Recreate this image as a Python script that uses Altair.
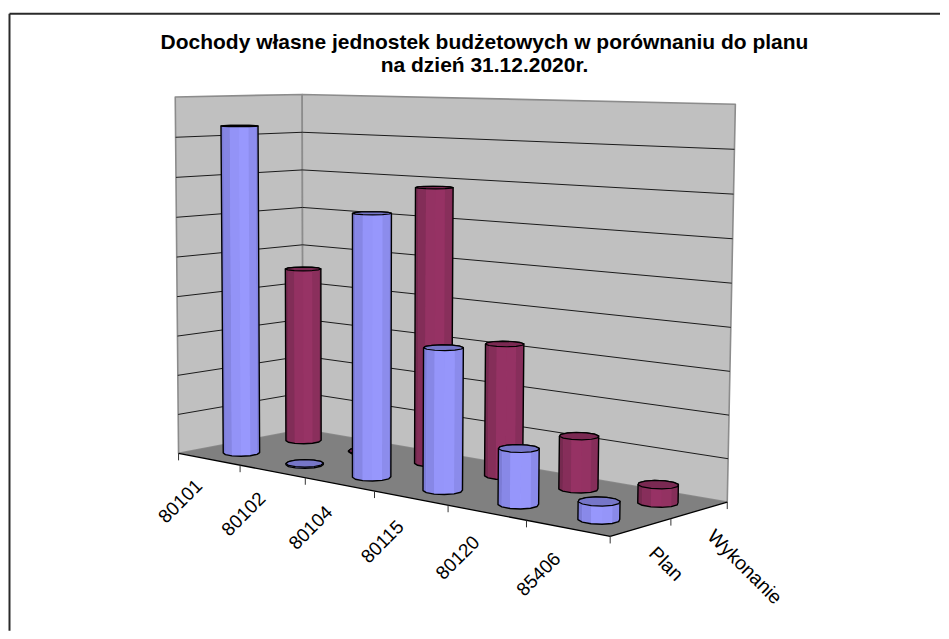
import numpy as np
import pandas as pd
import altair as alt

# ---- chart data -------------------------------------------------------
categories = ["80101", "80102", "80104", "80115", "80120", "85406"]
series_names = ["Plan", "Wykonanie"]
plan = [8.28, 0.03, 6.34, 3.35, 1.28, 0.4]
wykonanie = [4.52, 0.02, 6.84, 3.2, 1.25, 0.42]
grid_top = 9
title_lines = ["Dochody własne jednostek budżetowych w porównaniu do planu",
               "na dzień 31.12.2020r."]

# ---- view: 3-D world (category, series, value) to picture -------------
world_refs = [(0, 0, 0), (6, 0, 0), (6, 2, 0), (0, 2, 0), (0, 0, 9), (0, 2, 9), (6, 2, 9)]
view_refs = [(179, 453), (611, 537), (728, 502), (303, 430), (175, 97), (303, 94), (736, 104)]


def fit_camera():
    rows, rhs = [], []
    for (a, b, c), (p, q) in zip(world_refs, view_refs):
        rows.append([a, b, c, 1, 0, 0, 0, 0, -p * a, -p * b, -p * c])
        rhs.append(p)
        rows.append([0, 0, 0, 0, a, b, c, 1, -q * a, -q * b, -q * c])
        rhs.append(q)
    m = np.linalg.lstsq(np.array(rows, float), np.array(rhs, float), rcond=None)[0]
    return np.append(m, 1.0).reshape(3, 4)


CAM = fit_camera()


def project(a, b, c):
    h = CAM @ np.array([a, b, c, 1.0])
    return h[0] / h[2], h[1] / h[2]


polys = []


def add_poly(points, fill, stroke="transparent", sw=0.0):
    pid = len(polys)
    polys.append((pid, points, fill, stroke, sw))


def world_poly(pts, fill, stroke="transparent", sw=0.0):
    add_poly([project(*p) for p in pts], fill, stroke, sw)


def mix(hex_a, hex_b, t):
    a = [int(hex_a[i:i + 2], 16) for i in (1, 3, 5)]
    b = [int(hex_b[i:i + 2], 16) for i in (1, 3, 5)]
    return "#" + "".join(f"{round(x + (y - x) * t):02x}" for x, y in zip(a, b))


# walls and floor
WALL, FLOOR, EDGE = "#c0c0c0", "#808080", "#8c8c8c"
world_poly([(0, 0, 0), (0, 2, 0), (0, 2, grid_top), (0, 0, grid_top)], WALL, EDGE, 1.6)
world_poly([(0, 2, 0), (6, 2, 0), (6, 2, grid_top), (0, 2, grid_top)], WALL, EDGE, 1.6)
world_poly([(0, 0, 0), (6, 0, 0), (6, 2, 0), (0, 2, 0)], FLOOR)

segments = []


def seg(p, q, colour, width):
    sid = len(segments)
    segments.append((sid, project(*p), project(*q), colour, width))


for z in range(1, grid_top):
    seg((0, 0, z), (0, 2, z), "#1a1a1a", 1.0)
    seg((0, 2, z), (6, 2, z), "#1a1a1a", 1.0)
seg((0, 0, 0), (6, 0, 0), "#000000", 1.3)
seg((6, 0, 0), (6, 2, 0), "#000000", 1.3)


def tick(p, colour="#333333"):
    x, y = project(*p)
    return (x, y, colour)


ticks = [tick((u, 0, 0)) for u in range(7)] + [tick((6, v, 0)) for v in (1, 2)]

# cylinders
N = 12
RADIUS = 0.205
STYLES = {0: ("#9999ff", "#7c7cd6", "#7676c8"), 1: ("#993366", "#762a50", "#7a2952")}


def cylinder(u, v, value, s):
    bright, dark, top = STYLES[s]
    ang = np.linspace(0, 2 * np.pi, N, endpoint=False) + np.pi / N
    ring = [(u + RADIUS * np.cos(a), v + RADIUS * np.sin(a)) for a in ang]
    base = [project(p, q, 0) for p, q in ring]
    head = [project(p, q, value) for p, q in ring]
    all_pts = base + head
    # silhouette: convex hull in picture space
    pts = sorted(set(all_pts))

    def half(seq):
        out = []
        for p in seq:
            while len(out) > 1 and ((out[-1][0] - out[-2][0]) * (p[1] - out[-2][1])
                                    - (out[-1][1] - out[-2][1]) * (p[0] - out[-2][0])) <= 0:
                out.pop()
            out.append(p)
        return out[:-1]
    hull = half(pts) + half(pts[::-1])
    add_poly(hull, bright)
    # front facets, shaded by how far they turn from the viewer
    xs = [p[0] for p in base]
    xmid, xhalf = (min(xs) + max(xs)) / 2, (max(xs) - min(xs)) / 2
    for i in range(N):
        j = (i + 1) % N
        if base[i][1] + base[j][1] < 2 * np.mean([p[1] for p in base]) - 1.5:
            continue
        cx = (base[i][0] + base[j][0]) / 2
        t = min(1.0, abs(cx - xmid - 0.1 * xhalf) / xhalf)
        add_poly([base[i], base[j], head[j], head[i]], mix(bright, dark, t ** 1.6))
    add_poly(hull, "transparent", "#000000", 1.4)
    add_poly(head, top, "#000000", 1.2)


for k, val in enumerate(wykonanie):
    cylinder(k + 0.5, 1.5, val, 1)
for k, val in enumerate(plan):
    cylinder(k + 0.5, 0.5, val, 0)

# ---- tables -----------------------------------------------------------
poly_rows = []
for pid, points, fill, stroke, sw in polys:
    for o, (x, y) in enumerate(points):
        poly_rows.append(dict(pid=pid, o=o, x=x, y=y, fill=fill, stroke=stroke, sw=sw))
poly_df = pd.DataFrame(poly_rows)

wall_ids = 3
seg_df = pd.DataFrame([dict(x=p[0], y=p[1], x2=q[0], y2=q[1], c=c, w=w) for _, p, q, c, w in segments])
tick_df = pd.DataFrame([dict(x=x, y=y, c=c) for x, y, c in ticks])

cat_df = pd.DataFrame([dict(t=t, x=project(k + 0.5, 0, -0.6)[0], y=project(k + 0.5, 0, -0.6)[1])
                       for k, t in enumerate(categories)])
ser_df = pd.DataFrame([dict(t=t, x=project(6, k + 0.5, 0)[0], y=project(6, k + 0.5, 0)[1])
                       for k, t in enumerate(series_names)])
title_df = pd.DataFrame(dict(t=title_lines, x=[485, 485], y=[43, 66]))

W, H = 933, 623
xs = alt.Scale(domain=[8, 8 + W], range=[0, W], nice=False, zero=False)
ys = alt.Scale(domain=[8 + H, 8], range=[H, 0], nice=False, zero=False)
X = alt.X("x:Q", scale=xs, axis=None)
Y = alt.Y("y:Q", scale=ys, axis=None)


def poly_layer(df):
    return alt.Chart(df).mark_line(interpolate="linear-closed", strokeJoin="round").encode(
        X, Y,
        order="o:Q",
        detail="pid:N",
        fill=alt.Fill("fill:N", scale=None, legend=None),
        stroke=alt.Stroke("stroke:N", scale=None, legend=None),
        strokeWidth=alt.StrokeWidth("sw:Q", scale=None, legend=None),
    )


walls = poly_layer(poly_df[poly_df.pid < wall_ids])
grid = alt.Chart(seg_df).mark_rule().encode(
    X, Y, x2="x2:Q", y2="y2:Q",
    color=alt.Color("c:N", scale=None, legend=None),
    strokeWidth=alt.StrokeWidth("w:Q", scale=None, legend=None),
)
tick_marks = alt.Chart(tick_df).mark_rule(strokeWidth=1).encode(
    X, Y, y2=alt.Y2("y_end:Q"),
    color=alt.Color("c:N", scale=None, legend=None),
).transform_calculate(y_end="datum.y + 7")
bars = poly_layer(poly_df[poly_df.pid >= wall_ids])

FONT = "Liberation Sans"
cat_text = alt.Chart(cat_df).mark_text(font=FONT, fontSize=19, angle=315, align="right", baseline="middle",
                                       dx=-7, dy=-7, color="#000000").encode(X, Y, text="t:N")
ser_text = alt.Chart(ser_df).mark_text(font=FONT, fontSize=19.5, angle=45, align="left", baseline="middle",
                                       dx=24, dy=8.5, color="#000000").encode(X, Y, text="t:N")
title_text = alt.Chart(title_df).mark_text(font=FONT, fontSize=21, fontWeight="bold", align="center",
                                           baseline="middle", color="#000000").encode(X, Y, text="t:N")

frame_df = pd.DataFrame(dict(x=[9.5, 9.5], y=[13.5, 13.5], x2=[8 + W, 9.5], y2=[13.5, 8 + H]))
frame = alt.Chart(frame_df).mark_rule(color="#2a2a2a", strokeWidth=2).encode(X, Y, x2="x2:Q", y2="y2:Q")

chart = alt.layer(frame, walls, grid, tick_marks, bars, cat_text, ser_text, title_text).properties(
    width=W, height=H, padding=0, background="white"
).configure_view(stroke=None)

chart.save("out.html", embed_options={"renderer": "svg", "actions": False})
